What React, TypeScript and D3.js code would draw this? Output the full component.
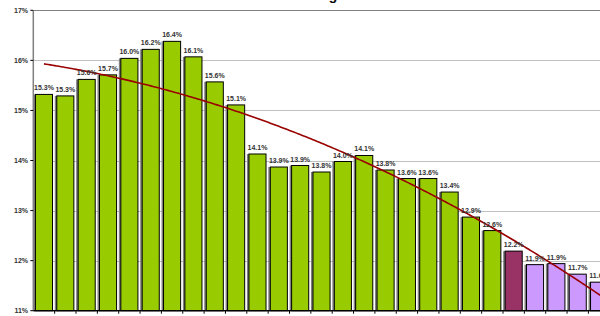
import React from "react";
import * as d3 from "d3";

const categories: string[] = Array.from({ length: 27 }, (_, i) => `C${i + 1}`);
const values: number[] = [
  15.32, 15.29, 15.62, 15.71, 16.04, 16.22, 16.38, 16.07, 15.57, 15.11, 14.13,
  13.87, 13.9, 13.77, 13.98, 14.1, 13.81, 13.64, 13.64, 13.37, 12.87, 12.6,
  12.19, 11.92, 11.94, 11.73, 11.57,
];
const groups: string[] = [
  "g", "g", "g", "g", "g", "g", "g", "g", "g", "g", "g", "g", "g", "g", "g",
  "g", "g", "g", "g", "g", "g", "g", "d", "l", "l", "l", "l",
];
const yTicks: number[] = [11, 12, 13, 14, 15, 16, 17];
const titleText = "g";

const W = 600;
const H = 316;

const groupColor: Record<string, string> = {
  g: "#99CC00",
  d: "#993366",
  l: "#CC99FF",
};

function quadFit(ys: number[]) {
  const n = ys.length;
  let s0 = 0, s1 = 0, s2 = 0, s3 = 0, s4 = 0, t0 = 0, t1 = 0, t2 = 0;
  ys.forEach((y, i) => {
    const x = i + 1;
    s0 += 1; s1 += x; s2 += x * x; s3 += x ** 3; s4 += x ** 4;
    t0 += y; t1 += x * y; t2 += x * x * y;
  });
  const A = [
    [s0, s1, s2, t0],
    [s1, s2, s3, t1],
    [s2, s3, s4, t2],
  ];
  for (let c = 0; c < 3; c++) {
    for (let r = c + 1; r < 3; r++) {
      const f = A[r][c] / A[c][c];
      for (let k = c; k < 4; k++) A[r][k] -= f * A[c][k];
    }
  }
  const sol = [0, 0, 0];
  for (let r = 2; r >= 0; r--) {
    let s = A[r][3];
    for (let k = r + 1; k < 3; k++) s -= A[r][k] * sol[k];
    sol[r] = s / A[r][r];
  }
  void n;
  return (x: number) => sol[0] + sol[1] * x + sol[2] * x * x;
}

export default function App() {
  const left = 33.3;
  const bw = 21.35;
  const x = d3
    .scaleBand<string>()
    .domain(categories)
    .range([left, left + bw * categories.length])
    .paddingInner(0.2)
    .paddingOuter(0.1);
  const y = d3.scaleLinear().domain([11, 17]).range([310.7, 10.3]);
  const fit = quadFit(values);
  const trendPts: [number, number][] = [];
  for (let t = 1; t <= categories.length + 1; t += 0.1) {
    trendPts.push([left + bw * (t - 0.5), y(fit(t))]);
  }
  const line = d3.line<[number, number]>().x((d) => d[0]).y((d) => d[1]);
  const font = "Arial, 'Liberation Sans', sans-serif";

  return (
    <svg
      width={W}
      height={H}
      style={{ position: "absolute", left: 0, top: 0, background: "#fff" }}
    >
      <rect x={0} y={0} width={W} height={H} fill="#fff" />
      <text
        x={333}
        y={0}
        textAnchor="middle"
        fontFamily={font}
        fontWeight="bold"
        fontSize={14}
        fill="#000"
      >
        {titleText}
      </text>
      {yTicks.map((t) => (
        <line
          key={"g" + t}
          x1={left}
          x2={W}
          y1={Math.round(y(t)) + 0.5}
          y2={Math.round(y(t)) + 0.5}
          stroke={t === 17 ? "#808080" : "#C0C0C0"}
          strokeWidth={1}
        />
      ))}
      {categories.map((c, i) => {
        const bx = x(c)!;
        const top = y(values[i]);
        return (
          <g key={c}>
            <rect
              x={bx - 2}
              y={top}
              width={x.bandwidth()}
              height={y(11) - top}
              fill="#808080"
            />
            <rect
              x={bx}
              y={top}
              width={x.bandwidth()}
              height={y(11) - top}
              fill={groupColor[groups[i]]}
              stroke="#000"
              strokeWidth={1}
            />
          </g>
        );
      })}
      <path
        d={line(trendPts) || ""}
        fill="none"
        stroke="#990000"
        strokeWidth={1.6}
      />
      {categories.map((c, i) => (
        <text
          key={"l" + c}
          x={x(c)! + x.bandwidth() / 2}
          y={y(values[i]) - 4}
          textAnchor="middle"
          fontFamily={font}
          fontWeight="bold"
          fontSize={7}
          fill="#333"
        >
          {values[i].toFixed(1) + "%"}
        </text>
      ))}
      <line x1={left} x2={left} y1={y(17)} y2={y(11)} stroke="#808080" strokeWidth={1.5} />
      <line x1={left} x2={W} y1={y(11)} y2={y(11)} stroke="#000" strokeWidth={1.2} />
      {categories.map((c, i) => (
        <line
          key={"t" + c}
          x1={left + bw * (i + 1)}
          x2={left + bw * (i + 1)}
          y1={y(11)}
          y2={y(11) + 3}
          stroke="#000"
          strokeWidth={1}
        />
      ))}
      {yTicks.map((t) => (
        <g key={"yt" + t}>
          <line x1={left - 3} x2={left} y1={y(t)} y2={y(t)} stroke="#000" />
          <text
            x={28}
            y={y(t) + 2.5}
            textAnchor="end"
            fontFamily={font}
            fontWeight="bold"
            fontSize={7}
            fill="#333"
          >
            {t + "%"}
          </text>
        </g>
      ))}
    </svg>
  );
}
